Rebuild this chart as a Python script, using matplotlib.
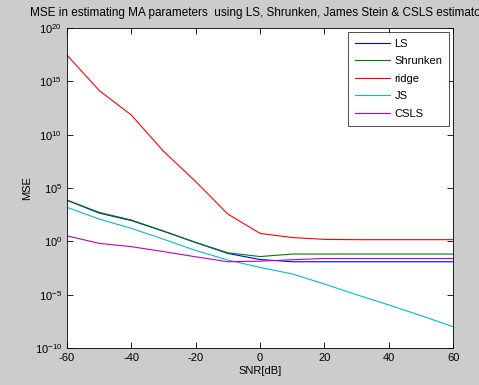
import matplotlib
matplotlib.use("Agg")
import matplotlib.pyplot as plt
from matplotlib.ticker import FixedLocator, NullLocator

snr = [-60, -50, -40, -30, -20, -10, 0, 10, 20, 30, 40, 50, 60]
mse_ls = [7.2e3, 450, 90, 9.0, 0.78, 0.074, 0.020, 0.0123, 0.0123, 0.0123, 0.0123, 0.0123, 0.0123]
mse_shrunken = [7.4e3, 525, 100, 9.3, 0.80, 0.085, 0.038, 0.065, 0.065, 0.065, 0.065, 0.065, 0.065]
mse_ridge = [2.9e17, 1.4e14, 6.9e11, 2.8e8, 4.0e5, 360, 5.6, 2.3, 1.55, 1.45, 1.45, 1.45, 1.45]
mse_js = [1550, 123, 16.6, 1.6, 0.14, 0.0178, 3.6e-3, 8.9e-4, 1.0e-4, 1.0e-5, 1.1e-6, 1.1e-7, 1.0e-8]
mse_csls = [3.3, 0.65, 0.32, 0.11, 0.036, 0.0123, 0.014, 0.019, 0.025, 0.025, 0.025, 0.025, 0.025]

plt.rcParams['font.family'] = ['Liberation Sans', 'DejaVu Sans']
plt.rcParams['mathtext.fontset'] = 'custom'
plt.rcParams['mathtext.rm'] = 'Liberation Sans'
plt.rcParams['mathtext.it'] = 'Liberation Sans'
plt.rcParams['axes.unicode_minus'] = False

fig = plt.figure(figsize=(4.79, 3.85), dpi=100)
fig.patch.set_facecolor("#cccccc")
ax = fig.add_axes([0.140, 0.096, 0.806, 0.831])

lw = 0.8
ax.semilogy(snr, mse_ls, color=(0, 0, 1), lw=lw, label="LS")
ax.semilogy(snr, mse_shrunken, color=(0, 0.5, 0), lw=lw, label="Shrunken")
ax.semilogy(snr, mse_ridge, color=(1, 0, 0), lw=lw, label="ridge")
ax.semilogy(snr, mse_js, color=(0, 0.75, 0.75), lw=lw, label="JS")
ax.semilogy(snr, mse_csls, color=(0.75, 0, 0.75), lw=lw, label="CSLS")

ax.set_xlim(-60, 60)
ax.set_ylim(1e-10, 1e20)
ax.set_xticks([-60, -40, -20, 0, 20, 40, 60])
ax.yaxis.set_major_locator(FixedLocator([1e-10, 1e-5, 1e0, 1e5, 1e10, 1e15, 1e20]))
ax.yaxis.set_minor_locator(NullLocator())
ax.tick_params(direction="in", top=True, right=True, labelsize=8, length=4, width=0.6)
for s in ax.spines.values():
    s.set_linewidth(0.6)

ax.set_xlabel("SNR[dB]", fontsize=8, labelpad=2)
ax.set_ylabel("MSE", fontsize=8, labelpad=2)
ax.set_title("MSE in estimating MA parameters  using LS, Shrunken, James Stein & CSLS estimators",
             fontsize=8.5, pad=9)

leg = ax.legend(loc="upper right", fontsize=8, frameon=True, fancybox=False,
                edgecolor="black", handlelength=3.2, handletextpad=0.4,
                borderaxespad=0.35, labelspacing=0.68, borderpad=0.6)
leg.get_frame().set_linewidth(0.6)

fig.savefig("out.png", dpi=100, facecolor=fig.get_facecolor())
